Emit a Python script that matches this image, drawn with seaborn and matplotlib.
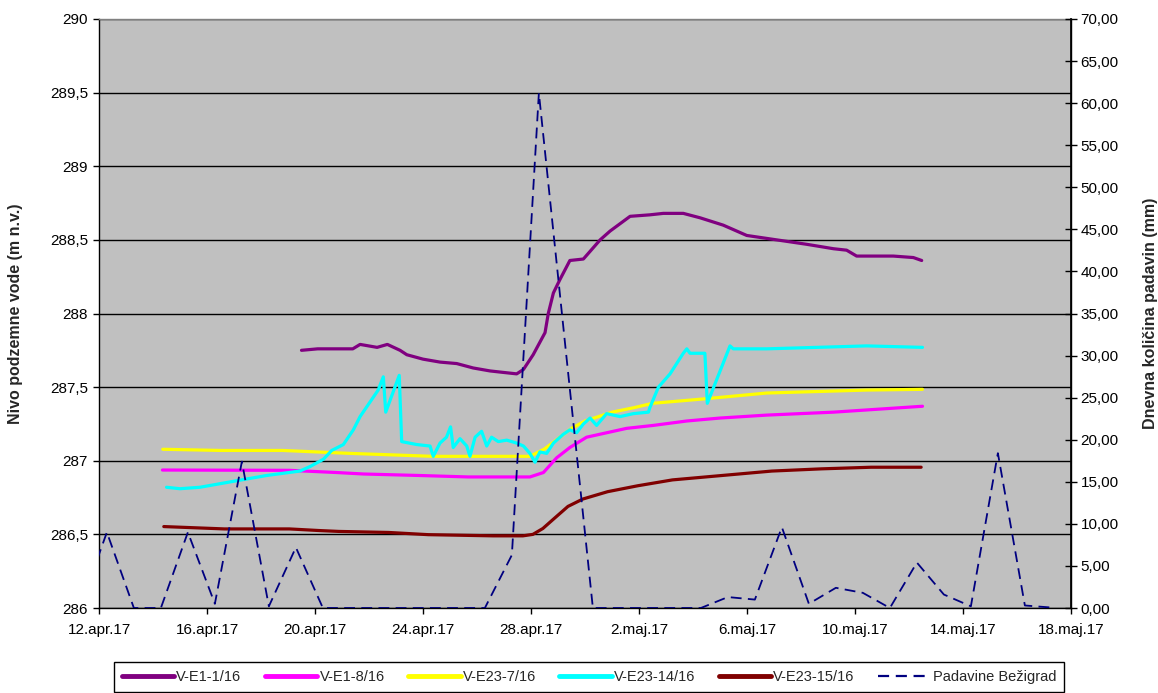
import numpy as np
import pandas as pd
import matplotlib
matplotlib.use("Agg")
import matplotlib.pyplot as plt
from matplotlib.lines import Line2D
from matplotlib.ticker import FuncFormatter, MultipleLocator
import seaborn as sns

# ---------------- data ----------------
START = "2017-04-12"

# groundwater levels: time (days since 12.apr.17 00:00) and level (m n.v.)
e1_1_days = [7.5, 8.1, 9.4, 9.67, 10.3, 10.68, 11.15, 11.4, 12.0, 12.63, 13.25, 13.86, 14.48,
             14.97, 15.47, 15.72, 16.08, 16.52, 16.64, 16.83, 17.07, 17.44, 17.94, 18.56, 18.93,
             19.67, 20.4, 20.9, 21.64, 22.26, 23.12, 23.99, 24.73, 25.47, 26.21, 27.2, 27.69,
             28.06, 28.68, 29.42, 30.16, 30.47]
e1_1_lvl = [287.75, 287.76, 287.76, 287.79, 287.77, 287.79, 287.75, 287.72, 287.69, 287.67,
            287.66, 287.63, 287.61, 287.60, 287.59, 287.62, 287.72, 287.87, 288.0, 288.14,
            288.23, 288.36, 288.37, 288.5, 288.56, 288.66, 288.67, 288.68, 288.68, 288.65,
            288.60, 288.53, 288.51, 288.49, 288.47, 288.44, 288.43, 288.39, 288.39, 288.39,
            288.38, 288.36]

e1_8_days = [2.35, 7.05, 8.8, 9.8, 11.84, 13.68, 15.96, 16.46, 16.95, 17.44, 18.06, 18.8,
             19.54, 20.53, 21.77, 23.0, 24.73, 27.2, 29.67, 30.5]
e1_8_lvl = [286.937, 286.935, 286.92, 286.91, 286.90, 286.89, 286.89, 286.92, 287.02, 287.09,
            287.16, 287.19, 287.22, 287.24, 287.27, 287.29, 287.31, 287.33, 287.36, 287.37]

e23_7_days = [2.36, 4.5, 6.8, 9.3, 12.37, 15.96, 16.5, 17.0, 17.5, 18.0, 18.5, 19.0, 19.8,
              20.5, 22.4, 24.73, 26.58, 28.43, 30.5]
e23_7_lvl = [287.078, 287.07, 287.07, 287.05, 287.03, 287.03, 287.08, 287.15, 287.22, 287.27,
             287.30, 287.33, 287.36, 287.39, 287.42, 287.46, 287.47, 287.48, 287.485]

e23_14_days = [2.5, 3.0, 3.74, 4.97, 6.21, 7.44, 7.81, 8.31, 8.62, 9.05, 9.42, 9.67, 10.34,
               10.53, 10.62, 11.12, 11.21, 11.77, 12.26, 12.38, 12.63, 12.87, 13.02, 13.12,
               13.37, 13.62, 13.74, 13.93, 14.17, 14.36, 14.54, 14.79, 15.1, 15.47, 15.72,
               15.96, 16.15, 16.33, 16.58, 16.83, 17.2, 17.44, 17.69, 17.94, 18.19, 18.43,
               18.8, 19.3, 19.79, 20.35, 20.4, 20.72, 21.15, 21.64, 21.77, 21.89, 22.44,
               22.53, 23.37, 23.49, 24.73, 26.58, 28.43, 30.5]
e23_14_lvl = [286.82, 286.81, 286.82, 286.86, 286.90, 286.93, 286.96, 287.01, 287.07, 287.11,
              287.21, 287.30, 287.48, 287.57, 287.33, 287.58, 287.13, 287.11, 287.10, 287.03,
              287.12, 287.16, 287.23, 287.09, 287.15, 287.10, 287.03, 287.16, 287.20, 287.10,
              287.16, 287.13, 287.14, 287.12, 287.10, 287.05, 286.99, 287.06, 287.05, 287.12,
              287.18, 287.21, 287.19, 287.25, 287.29, 287.24, 287.32, 287.30, 287.32, 287.33,
              287.36, 287.50, 287.59, 287.73, 287.76, 287.73, 287.73, 287.39, 287.78, 287.76,
              287.76, 287.77, 287.78, 287.77]

e23_15_days = [2.4, 4.65, 7.05, 8.16, 8.89, 10.73, 12.2, 14.6, 15.7, 16.07, 16.44, 16.81,
               17.37, 17.92, 18.84, 19.95, 21.24, 23.08, 24.92, 26.76, 28.6, 30.45]
e23_15_lvl = [286.553, 286.537, 286.537, 286.526, 286.52, 286.513, 286.498, 286.49, 286.49,
              286.50, 286.54, 286.60, 286.69, 286.74, 286.79, 286.83, 286.87, 286.90, 286.93,
              286.945, 286.956, 286.956]

series_names = ["V-E1-1/16", "V-E1-8/16", "V-E23-7/16", "V-E23-14/16", "V-E23-15/16"]
series_colors = ["#800080", "#FF00FF", "#FFFF00", "#00FFFF", "#800000"]

# daily precipitation (mm), measured at 07:00 each day from 11.apr.17 to 17.maj.17
rain_first = "2017-04-11 07:00"
rain_mm = [0, 9.0, 0, 0, 9.0, 0.5, 17.4, 0.2, 7.2, 0, 0, 0, 0, 0, 0, 0, 6.3, 61.2, 30.5, 0,
           0, 0, 0, 0, 1.3, 1.0, 9.6, 0.5, 2.4, 1.8, 0, 5.4, 1.6, 0.2, 18.4, 0.3, 0.05]
rain_name = "Padavine Bežigrad"

xtick_dates = ["2017-04-12", "2017-04-16", "2017-04-20", "2017-04-24", "2017-04-28",
               "2017-05-02", "2017-05-06", "2017-05-10", "2017-05-14", "2017-05-18"]
xtick_labels = ["12.apr.17", "16.apr.17", "20.apr.17", "24.apr.17", "28.apr.17",
                "2.maj.17", "6.maj.17", "10.maj.17", "14.maj.17", "18.maj.17"]

left_label = "Nivo podzemne vode (m n.v.)"
right_label = "Dnevna količina padavin (mm)"

# ---------------- build frames ----------------
t0 = pd.Timestamp(START)
frames = []
for name, d, v in zip(series_names,
                      [e1_1_days, e1_8_days, e23_7_days, e23_14_days, e23_15_days],
                      [e1_1_lvl, e1_8_lvl, e23_7_lvl, e23_14_lvl, e23_15_lvl]):
    frames.append(pd.DataFrame({"time": t0 + pd.to_timedelta(d, unit="D"),
                                "level": v, "series": name}))
wl = pd.concat(frames, ignore_index=True)

rain = pd.DataFrame({"time": pd.date_range(rain_first, periods=len(rain_mm), freq="D"),
                     "mm": rain_mm})

# ---------------- plot ----------------
sns.set_theme(style="ticks")
plt.rcParams["font.family"] = ["Liberation Sans", "DejaVu Sans"]
plt.rcParams["font.size"] = 11

fig = plt.figure(figsize=(11.58, 6.93), dpi=100)
ax = fig.add_axes([99 / 1158, 1 - 608 / 693, (1071 - 99) / 1158, (608 - 19) / 693])
ax.set_facecolor("#C0C0C0")

sns.lineplot(data=wl, x="time", y="level", hue="series", hue_order=series_names,
             palette=dict(zip(series_names, series_colors)), sort=False, estimator=None,
             linewidth=2.3, legend=False, ax=ax)

ax.set_xlim(pd.Timestamp(xtick_dates[0]), pd.Timestamp(xtick_dates[-1]))
ax.set_ylim(286, 290)
ax.yaxis.set_major_locator(MultipleLocator(0.5))
ax.yaxis.set_major_formatter(FuncFormatter(lambda v, _: f"{v:g}".replace(".", ",")))
ax.grid(axis="y", color="black", linewidth=1.0)
ax.grid(axis="x", visible=False)
ax.set_axisbelow(True)
ax.set_xticks([pd.Timestamp(s) for s in xtick_dates])
ax.set_xticklabels(xtick_labels)
ax.set_xlabel("")
ax.set_ylabel(left_label, fontsize=11.5, fontweight="bold")
ax.yaxis.set_label_coords(-0.078, 0.5)
ax.tick_params(axis="both", direction="out", length=4, width=1, colors="black",
               labelsize=11, pad=4)
ax.tick_params(axis="x", pad=7)
for s in ["left", "bottom", "right"]:
    ax.spines[s].set_color("black")
    ax.spines[s].set_linewidth(1.0)
ax.spines["top"].set_color("#808080")
ax.spines["top"].set_linewidth(1.0)

ax2 = ax.twinx()
sns.lineplot(data=rain, x="time", y="mm", color="#000080", linewidth=1.3,
             legend=False, ax=ax2)
ax2.lines[0].set_dashes([6, 3.5])
ax2.set_ylim(0, 70)
ax2.yaxis.set_major_locator(MultipleLocator(5))
ax2.yaxis.set_major_formatter(FuncFormatter(lambda v, _: f"{v:.2f}".replace(".", ",")))
ax2.set_ylabel(right_label, fontsize=11.5, fontweight="bold")
ax2.yaxis.set_label_coords(1.074, 0.5)
ax2.tick_params(axis="y", direction="inout", length=8, width=1, colors="black",
                labelsize=11, pad=3)
ax2.spines["right"].set_color("black")
ax2.spines["top"].set_visible(False)
ax2.spines["left"].set_visible(False)
ax2.spines["bottom"].set_visible(False)
ax2.grid(False)

handles = [Line2D([], [], color=c, linewidth=3.5) for c in series_colors]
handles.append(Line2D([], [], color="#000080", linewidth=1.6, dashes=[5, 3]))
labels = series_names + [rain_name]
leg = fig.legend(handles, labels, loc="center", bbox_to_anchor=(589 / 1158, 1 - 677 / 693),
                 ncol=6, frameon=True, fancybox=False, fontsize=10.5, handlelength=3.6,
                 handletextpad=0.15, columnspacing=1.6, borderpad=0.55, borderaxespad=0)
leg.get_frame().set_edgecolor("black")
leg.get_frame().set_linewidth(1.0)
leg.get_frame().set_facecolor("white")
leg.get_frame().set_alpha(1)

fig.savefig("out.png", dpi=100, facecolor="white")
